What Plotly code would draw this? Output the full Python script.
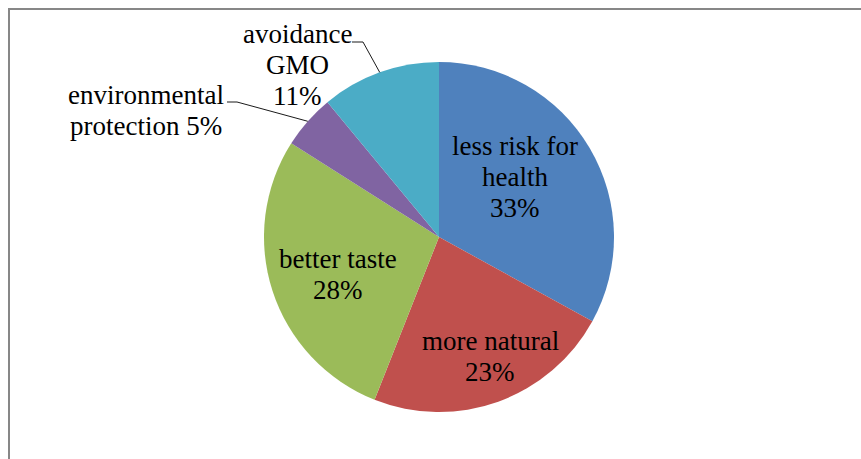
import math
import plotly.graph_objects as go

# Reasons for buying organic food (share of respondents)
labels = ["less risk for health", "more natural", "better taste",
          "environmental protection", "avoidance GMO"]
values = [33, 23, 28, 5, 11]
colors = ["#4F81BD", "#C0504D", "#9BBB59", "#8064A2", "#4BACC6"]

W, H = 861, 459
CX, CY, R = 439, 237, 175  # pie centre and radius in pixels
LINE_GAP = 31              # vertical distance between label lines (px)

def px(x):
    return x / W

def py(y):
    return 1 - y / H

fig = go.Figure(go.Pie(
    labels=labels,
    values=values,
    sort=False,
    direction="clockwise",
    rotation=0,
    marker=dict(colors=colors, line=dict(width=0)),
    textinfo="none",
    hoverinfo="label+percent",
    showlegend=False,
    domain=dict(x=[px(CX - R), px(CX + R)], y=[py(CY + R), py(CY - R)]),
))

total = sum(values)
pct = [round(100 * v / total) for v in values]

def rim_point(i):
    """Pixel position on the rim at the middle of slice i."""
    start = sum(values[:i]) / total
    mid = (start + values[i] / total / 2) * 2 * math.pi
    return CX + R * math.sin(mid), CY - R * math.cos(mid)

font = dict(family="Liberation Serif", size=27, color="#000000")

# label lines and the centre of each label block (pixels)
label_lines = [
    ["less risk for", "health", f"{pct[0]}%"],
    ["more natural", f"{pct[1]}%"],
    ["better taste", f"{pct[2]}%"],
    ["environmental", f"protection {pct[3]}%"],
    ["avoidance", "GMO", f"{pct[4]}%"],
]
label_pos = [(515, 177), (490, 356), (338, 274), (146, 111), (297, 65)]

annotations = []
for lines, (x, y) in zip(label_lines, label_pos):
    n = len(lines)
    for k, line in enumerate(lines):
        ly = y + (k - (n - 1) / 2) * LINE_GAP
        annotations.append(dict(
            x=px(x), y=py(ly), xref="paper", yref="paper",
            text=line, showarrow=False, font=font,
            xanchor="center", yanchor="middle", align="center",
        ))

shapes = []
# leader lines for the two small outside slices
for i, (hx0, hx1, hy) in [(3, (227, 237, 102)), (4, (352, 363, 42))]:
    ex, ey = rim_point(i)
    path = f"M {px(hx0)},{py(hy)} L {px(hx1)},{py(hy)} L {px(ex)},{py(ey)}"
    shapes.append(dict(type="path", xref="paper", yref="paper", path=path,
                       line=dict(color="#000000", width=0.9)))

# chart frame (top and left edges visible)
shapes.append(dict(type="line", xref="paper", yref="paper",
                   x0=px(8), x1=1.01, y0=py(9), y1=py(9),
                   line=dict(color="#878787", width=2)))
shapes.append(dict(type="line", xref="paper", yref="paper",
                   x0=px(9), x1=px(9), y0=py(8), y1=-0.01,
                   line=dict(color="#878787", width=2)))

fig.update_layout(
    width=W, height=H,
    margin=dict(l=0, r=0, t=0, b=0),
    paper_bgcolor="#FFFFFF",
    plot_bgcolor="#FFFFFF",
    annotations=annotations,
    shapes=shapes,
)

fig.write_html("out.html")
